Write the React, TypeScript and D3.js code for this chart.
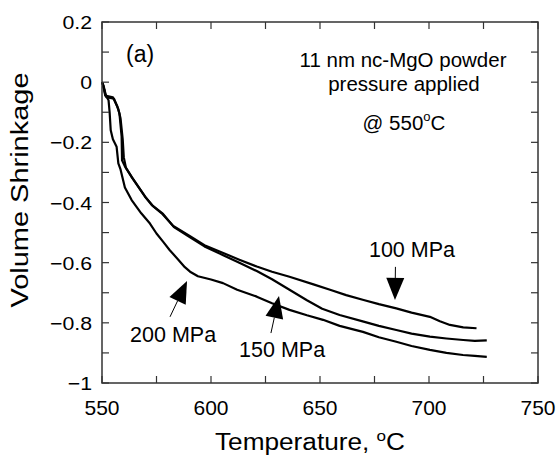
import React from "react";
import * as d3 from "d3";

// readings (temperature in C, volume shrinkage)
const temp100 = [550, 550.6, 551.5, 555, 557, 558, 559, 559.2, 560.5, 563.6, 569.7, 573, 577.4, 582.7, 590.4, 597, 605.6, 613, 621, 628, 636, 647, 654.6, 662, 670, 677, 685, 692, 700.4, 705, 709.6, 715.7, 721.8];
const vol100 = [0, -0.01, -0.045, -0.05, -0.08, -0.104, -0.18, -0.26, -0.28, -0.315, -0.38, -0.41, -0.436, -0.478, -0.512, -0.542, -0.568, -0.59, -0.613, -0.63, -0.647, -0.672, -0.69, -0.708, -0.724, -0.738, -0.752, -0.766, -0.78, -0.795, -0.807, -0.815, -0.818];

const temp150 = [550, 551, 552, 555.5, 557.5, 558.5, 559.5, 560, 561, 564, 570, 573.5, 578, 583, 590.4, 597, 605.6, 613, 621, 628, 636, 644, 651, 659, 670, 677, 685, 692, 700.4, 708, 715.7, 721, 726.5];
const vol150 = [0, -0.02, -0.05, -0.055, -0.09, -0.12, -0.19, -0.25, -0.285, -0.32, -0.383, -0.412, -0.438, -0.482, -0.516, -0.546, -0.575, -0.6, -0.628, -0.655, -0.69, -0.725, -0.753, -0.774, -0.796, -0.81, -0.824, -0.836, -0.846, -0.852, -0.857, -0.86, -0.858];

const temp200 = [550, 550.5, 551.5, 553, 553.5, 554, 555, 556.7, 557.5, 558.5, 560.5, 563.6, 568, 572, 575, 578, 581, 585, 588, 590.4, 594, 600, 605.5, 612, 621, 628, 636, 644, 651.4, 659, 669.7, 677, 685, 692, 700.4, 708, 715.6, 721, 726.5];
const vol200 = [0, -0.01, -0.04, -0.06, -0.1, -0.16, -0.19, -0.215, -0.27, -0.29, -0.35, -0.392, -0.436, -0.47, -0.503, -0.53, -0.558, -0.59, -0.615, -0.63, -0.645, -0.656, -0.668, -0.69, -0.713, -0.735, -0.757, -0.775, -0.79, -0.81, -0.83, -0.848, -0.863, -0.877, -0.89, -0.9, -0.907, -0.91, -0.913];

const xTicks = [550, 600, 650, 700, 750];
const xMinor = [575, 625, 675, 725];
const yTicks = [0.2, 0, -0.2, -0.4, -0.6, -0.8, -1];
const yMinor = [0.1, -0.1, -0.3, -0.5, -0.7, -0.9];

// arrow annotations: label, label anchor, arrow tail, arrow tip
const arrowLabels = ["100 MPa", "150 MPa", "200 MPa"];
const labelAt = [[692.2, -0.58], [632.6, -0.914], [582.6, -0.864]];
const tailAt = [[684.6, -0.614], [627.5, -0.834], [581.2, -0.78]];
const tipAt = [[684.4, -0.724], [631.2, -0.711], [589, -0.661]];

const W = 558, H = 455;
const left = 102, right = 538, top = 22, bottom = 383;

export default function App() {
    const x = d3.scaleLinear().domain([550, 750]).range([left, right]);
    const y = d3.scaleLinear().domain([-1, 0.2]).range([bottom, top]);

    const line = d3.line<[number, number]>().x(d => x(d[0])).y(d => y(d[1]));
    const series = [
        d3.zip(temp100, vol100) as [number, number][],
        d3.zip(temp150, vol150) as [number, number][],
        d3.zip(temp200, vol200) as [number, number][],
    ];

    const tickLen = 7;
    const font = "Liberation Sans, Arial, sans-serif";

    // filled triangle head + thin shaft
    const arrow = (i: number) => {
        const [tx, ty] = [x(tailAt[i][0]), y(tailAt[i][1])];
        const [px, py] = [x(tipAt[i][0]), y(tipAt[i][1])];
        const dx = px - tx, dy = py - ty;
        const len = Math.sqrt(dx * dx + dy * dy);
        const ux = dx / len, uy = dy / len;
        const headL = 22, headW = 9;
        const bx = px - ux * headL, by = py - uy * headL;
        const pts = [[px, py], [bx - uy * headW, by + ux * headW], [bx + uy * headW, by - ux * headW]];
        return (
            <g key={"a" + i}>
                <line x1={tx} y1={ty} x2={bx} y2={by} stroke="#000" strokeWidth={1} />
                <polygon points={pts.map(p => p.join(",")).join(" ")} fill="#000" />
            </g>
        );
    };

    return (
        <svg width={W} height={H} style={{ position: "absolute", left: 0, top: 0, background: "#fff" }} fontFamily={font}>
            {/* curves */}
            {series.map((s, i) => (
                <path key={i} d={line(s) || ""} fill="none" stroke="#000" strokeWidth={2.2} strokeLinejoin="round" />
            ))}

            {/* frame */}
            <rect x={left} y={top} width={right - left} height={bottom - top} fill="none" stroke="#333" strokeWidth={1.5} />

            {/* ticks on all sides, pointing inward */}
            {xTicks.concat(xMinor).map(t => (
                <g key={"xt" + t}>
                    <line x1={x(t)} x2={x(t)} y1={bottom} y2={bottom - tickLen} stroke="#333" strokeWidth={1.2} />
                    <line x1={x(t)} x2={x(t)} y1={top} y2={top + tickLen} stroke="#333" strokeWidth={1.2} />
                </g>
            ))}
            {yTicks.concat(yMinor).map(t => (
                <g key={"yt" + t}>
                    <line x1={left} x2={left + tickLen} y1={y(t)} y2={y(t)} stroke="#333" strokeWidth={1.2} />
                    <line x1={right} x2={right - tickLen} y1={y(t)} y2={y(t)} stroke="#333" strokeWidth={1.2} />
                </g>
            ))}

            {/* tick labels */}
            {xTicks.map(t => (
                <text key={"xl" + t} x={x(t)} y={bottom + 32} textAnchor="middle" fontSize={21}>{t}</text>
            ))}
            {yTicks.map(t => (
                <text key={"yl" + t} transform={`translate(${left - 10},${y(t) + 7}) scale(1.15,1)`} textAnchor="end" fontSize={18.5}>{d3.format("")(t)}</text>
            ))}

            {/* axis titles */}
            <text x={310} y={450} textAnchor="middle" fontSize={23} textLength={190} lengthAdjust="spacingAndGlyphs">
                Temperature, <tspan fontSize={15} dy={-9}>o</tspan><tspan dy={9}>C</tspan>
            </text>
            <text transform="translate(28,190) rotate(-90)" textAnchor="middle" fontSize={23} textLength={235} lengthAdjust="spacingAndGlyphs">
                Volume Shrinkage
            </text>

            {/* annotations */}
            <text x={126} y={62} fontSize={23}>(a)</text>
            <text x={403} y={67} textAnchor="middle" fontSize={20.5}>11 nm nc-MgO powder</text>
            <text x={404} y={91} textAnchor="middle" fontSize={20.5}>pressure applied</text>
            <text x={404} y={130} textAnchor="middle" fontSize={20.5}>
                @ 550<tspan fontSize={13} dy={-9}>o</tspan><tspan dy={9}>C</tspan>
            </text>

            {arrowLabels.map((lab, i) => (
                <g key={lab}>
                    {arrow(i)}
                    <text x={x(labelAt[i][0])} y={y(labelAt[i][1])} textAnchor="middle" fontSize={21.5}>{lab}</text>
                </g>
            ))}
        </svg>
    );
}
